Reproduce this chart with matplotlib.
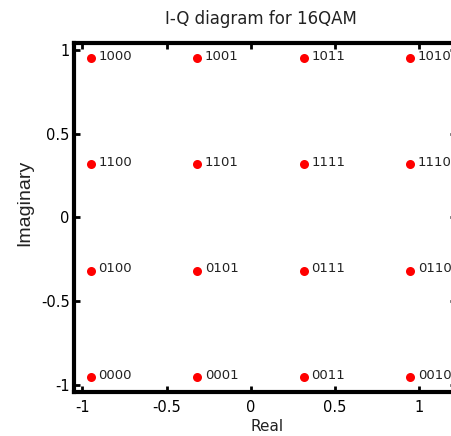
import matplotlib
matplotlib.use('Agg')
import matplotlib.pyplot as plt
import numpy as np

# constelacion 16QAM normalizada (niveles +-1/sqrt(10), +-3/sqrt(10))
niveles = [-0.9487, -0.3162, 0.3162, 0.9487]
filas_y = [0.9487, 0.3162, -0.3162, -0.9487]
etiquetas = [['1000', '1001', '1011', '1010'],
             ['1100', '1101', '1111', '1110'],
             ['0100', '0101', '0111', '0110'],
             ['0000', '0001', '0011', '0010']]
xticks = [-1, -0.5, 0, 0.5, 1]
yticks = [-1, -0.5, 0, 0.5, 1]
tick_txt = ['-1', '-0.5', '0', '0.5', '1']

plt.rcParams['font.family'] = ['DejaVu Sans']

fig = plt.figure(figsize=(4.52, 4.36), dpi=100)
ax = fig.add_axes([0.1637, 0.1009, 0.845, 0.8005])

for i, y in enumerate(filas_y):
    for j, x in enumerate(niveles):
        ax.plot(x, y, 'o', color='red', markersize=6.5, markeredgewidth=0)
        ax.text(x + 0.045, y + 0.01, etiquetas[i][j], fontsize=9.5,
                va='center', ha='left', color='#222222')

ax.set_xlim(-1.05, 1.22)
ax.set_ylim(-1.04, 1.04)
ax.set_xticks(xticks)
ax.set_xticklabels(tick_txt)
ax.set_yticks(yticks)
ax.set_yticklabels(tick_txt)
ax.tick_params(axis='x', direction='in', length=4, width=2, top=True, labelsize=10.5, pad=6, colors='black')
ax.tick_params(axis='y', direction='in', length=4, width=2, right=True, labelsize=10.5, pad=3)
for s in ax.spines.values():
    s.set_linewidth(3)

ax.set_title('I-Q diagram for 16QAM', fontsize=12, pad=14, x=0.49, color='#222222')
ax.set_xlabel('Real', fontsize=11, color='#222222')
ax.xaxis.set_label_coords(0.505, -0.078)
ax.set_ylabel('Imaginary', fontsize=14, family='Liberation Sans', color='#222222')
ax.yaxis.set_label_coords(-0.107, 0.5415)

plt.savefig('out.png', dpi=100)
